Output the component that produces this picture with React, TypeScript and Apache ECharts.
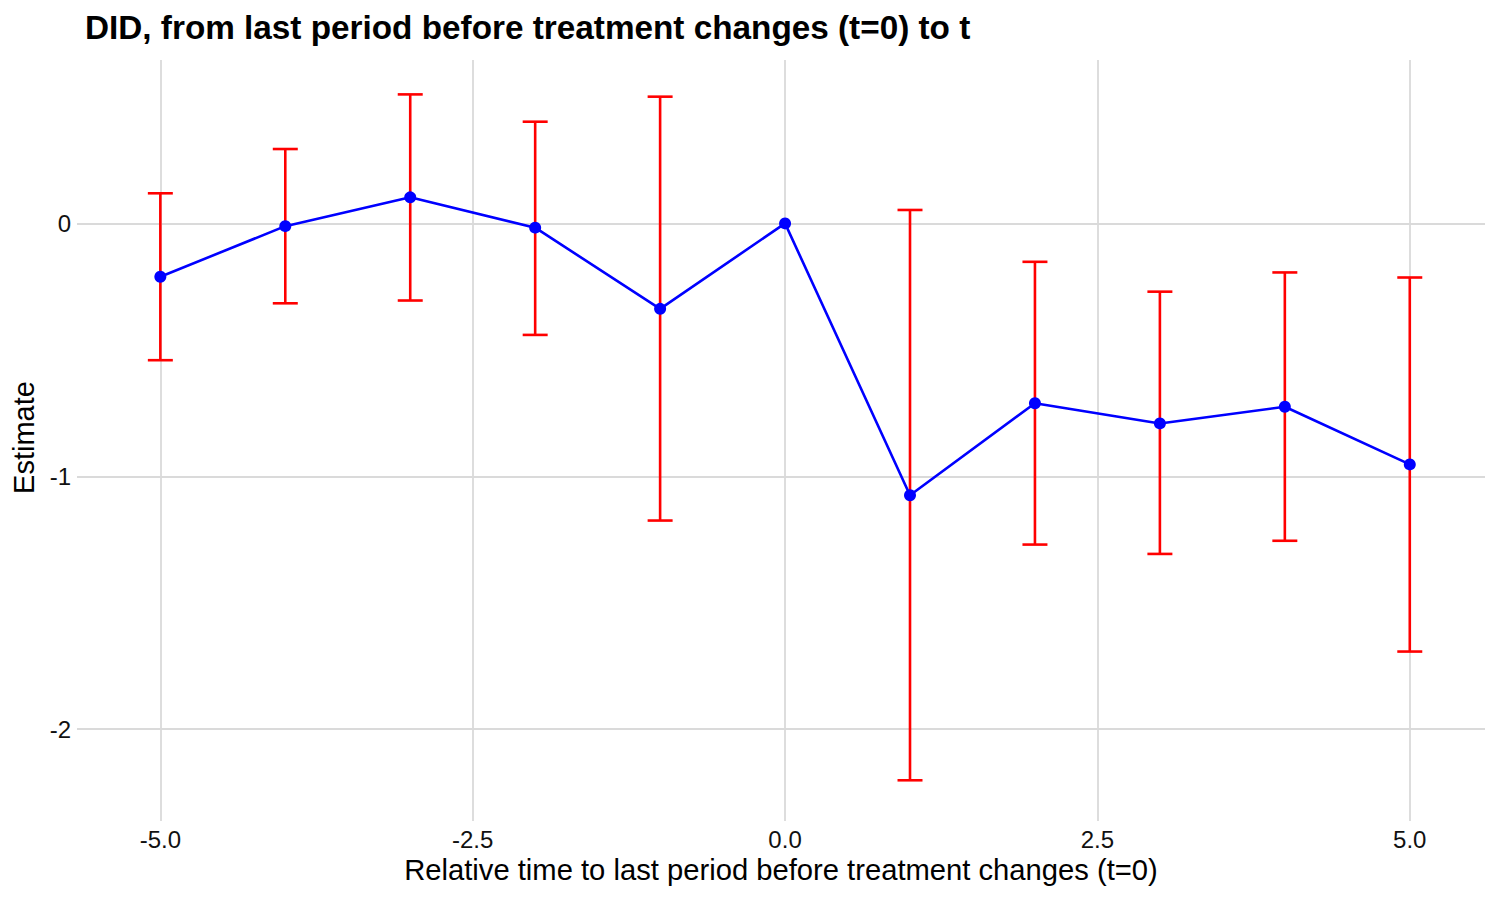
import React, { useEffect, useRef } from "react";
import * as echarts from "echarts";

const periods = [-5, -4, -3, -2, -1, 0, 1, 2, 3, 4, 5];
const estimates = [-0.211, -0.011, 0.103, -0.017, -0.338, 0, -1.075, -0.711, -0.791, -0.725, -0.953];
const ciLow = [-0.541, -0.316, -0.305, -0.441, -1.175, null, -2.202, -1.27, -1.307, -1.255, -1.693];
const ciHigh = [0.119, 0.294, 0.51, 0.402, 0.501, null, 0.053, -0.152, -0.27, -0.194, -0.214];
const xTicks = [-5, -2.5, 0, 2.5, 5];
const yTicks = [-2, -1, 0];

const FONT = "'Liberation Sans', Arial, Helvetica, sans-serif";

export default function App() {
  const ref = useRef<HTMLDivElement>(null);
  useEffect(() => {
    document.body.style.margin = "0";
    if (!ref.current) return;
    const chart = echarts.init(ref.current, undefined, { renderer: "svg" });
    const lineData = periods.map((t, i) => [t, estimates[i]]);
    const errData = periods
      .map((t, i) => [t, ciLow[i], ciHigh[i]])
      .filter((d) => d[1] !== null && d[2] !== null);
    const capHalf = 0.1;
    const red = "#ff0000";
    chart.setOption({
      animation: false,
      backgroundColor: "#ffffff",
      textStyle: { fontFamily: FONT },
      title: {
        text: "DID, from last period before treatment changes (t=0) to t",
        left: 85,
        top: 11,
        padding: 0,
        textStyle: { fontFamily: FONT, fontSize: 33.3, fontWeight: "bold", color: "#000000" },
      },
      grid: { left: 77, right: 15, top: 60, bottom: 79, containLabel: false, outerBoundsMode: "none" },
      xAxis: {
        type: "value",
        min: -5.667,
        max: 5.602,
        name: "Relative time to last period before treatment changes (t=0)",
        nameLocation: "middle",
        nameGap: 32,
        nameTextStyle: { fontFamily: FONT, fontSize: 29.2, color: "#000000" },
        axisLine: { show: false },
        axisTick: { show: false, customValues: xTicks },
        axisLabel: {
          customValues: xTicks,
          margin: 6,
          fontFamily: FONT,
          fontSize: 24,
          color: "#111111",
          formatter: (v: number) => v.toFixed(1),
        },
        splitLine: { show: true, lineStyle: { color: "#dadada", width: 1.8 } },
      },
      yAxis: {
        type: "value",
        min: -2.363,
        max: 0.646,
        name: "Estimate",
        nameLocation: "middle",
        nameGap: 35.5,
        nameTextStyle: { fontFamily: FONT, fontSize: 29, color: "#000000", padding: [0, 0, 0, 6] },
        axisLine: { show: false },
        axisTick: { show: false, customValues: yTicks },
        axisLabel: {
          customValues: yTicks,
          margin: 6,
          fontFamily: FONT,
          fontSize: 24,
          color: "#111111",
          formatter: (v: number) => String(v),
        },
        splitLine: { show: true, lineStyle: { color: "#dadada", width: 1.8 } },
      },
      series: [
        {
          type: "custom",
          name: "CI",
          data: errData,
          encode: { x: 0, y: [1, 2] },
          z: 2,
          renderItem: (params: any, api: any) => {
            const x = api.value(0);
            const lo = api.value(1);
            const hi = api.value(2);
            const pLo = api.coord([x, lo]);
            const pHi = api.coord([x, hi]);
            const lL = api.coord([x - capHalf, lo]);
            const lR = api.coord([x + capHalf, lo]);
            const hL = api.coord([x - capHalf, hi]);
            const hR = api.coord([x + capHalf, hi]);
            const st = { stroke: red, lineWidth: 2.6, fill: null };
            return {
              type: "group",
              children: [
                { type: "line", shape: { x1: pLo[0], y1: pLo[1], x2: pHi[0], y2: pHi[1] }, style: st },
                { type: "line", shape: { x1: lL[0], y1: lL[1], x2: lR[0], y2: lR[1] }, style: st },
                { type: "line", shape: { x1: hL[0], y1: hL[1], x2: hR[0], y2: hR[1] }, style: st },
              ],
            };
          },
        },
        {
          type: "line",
          name: "Estimate",
          data: lineData,
          z: 3,
          symbol: "circle",
          symbolSize: 12,
          showAllSymbol: true,
          lineStyle: { color: "#0000ff", width: 2.6 },
          itemStyle: { color: "#0000ff" },
        },
      ],
    });
    return () => chart.dispose();
  }, []);
  return <div ref={ref} style={{ width: 1500, height: 900 }} />;
}
